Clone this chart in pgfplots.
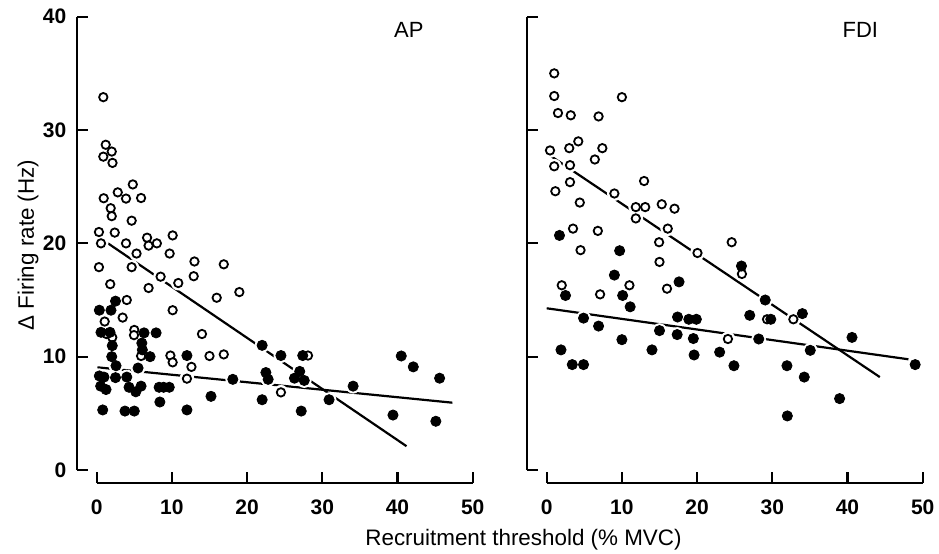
\documentclass[border=0pt]{standalone}
\usepackage{pgfplots}
\pgfplotsset{compat=1.18}
\usepackage{pgfplotstable}
\usepackage{fontspec}
\setmainfont{Liberation Sans}

% AP: open and filled circles
\pgfplotstableread{
x y
0.88 32.9
1.2 28.7
2.0 28.1
0.88 27.65
2.1 27.1
4.8 25.2
2.8 24.5
3.9 23.95
5.9 24.0
0.93 23.98
1.86 23.1
2.0 22.4
4.65 22.0
0.3 21.0
2.4 20.95
3.9 20.0
0.57 20.0
6.7 20.5
6.9 19.8
8.0 20.0
10.1 20.7
5.3 19.1
9.7 19.1
0.3 17.9
4.65 17.9
13.0 18.4
16.9 18.15
8.5 17.06
12.9 17.1
1.8 16.4
10.85 16.5
6.9 16.06
15.96 15.2
18.97 15.7
4.0 15.0
10.1 14.1
3.45 13.45
1.06 13.1
5.0 12.36
4.96 11.9
2.07 11.7
1.3 12.0
14.0 12.0
5.9 10.06
9.8 10.1
10.1 9.5
15.0 10.06
16.9 10.2
12.6 9.1
12.0 8.06
24.5 6.85
28.1 10.1
}\APopen

\pgfplotstableread{
x y
2.5 14.9
0.35 14.1
1.9 14.1
0.57 12.15
1.77 12.15
6.3 12.1
7.9 12.1
6.0 11.2
2.07 10.97
6.07 10.6
2.0 10.0
7.1 10.0
12.0 10.1
2.57 9.2
5.5 9.0
0.35 8.3
0.97 8.2
0.53 7.4
1.24 7.1
2.5 8.15
4.0 8.2
4.3 7.3
5.2 6.9
5.9 7.4
8.3 7.3
8.9 7.3
9.65 7.3
8.4 6.0
0.8 5.3
3.76 5.2
5.0 5.2
12.0 5.3
15.2 6.5
18.1 8.0
22.0 11.0
24.5 10.1
22.5 8.6
22.8 8.0
22.0 6.2
26.3 8.1
27.0 8.7
27.6 7.9
27.4 10.1
27.2 5.2
34.1 7.4
30.9 6.2
40.5 10.06
42.1 9.1
45.6 8.1
39.4 4.85
45.1 4.3
}\APfilled

% FDI: open and filled circles
\pgfplotstableread{
x y
1.0 35.0
1.0 33.0
10.0 32.9
1.5 31.5
3.2 31.3
6.9 31.2
4.2 29.0
3.0 28.4
0.44 28.2
7.4 28.4
6.4 27.4
1.0 26.8
3.1 26.9
3.1 25.4
12.95 25.5
1.15 24.6
9.0 24.4
4.4 23.6
11.85 23.2
13.1 23.2
15.3 23.45
17.0 23.06
11.85 22.2
3.5 21.3
6.8 21.1
16.1 21.3
14.95 20.1
24.6 20.1
4.5 19.4
20.05 19.15
15.0 18.36
2.0 16.3
7.1 15.5
11.0 16.3
16.0 16.0
25.96 17.3
29.3 13.3
32.8 13.3
24.1 11.56
}\FDIopen

\pgfplotstableread{
x y
1.7 20.7
9.7 19.35
9.0 17.2
2.5 15.4
10.1 15.4
11.1 14.4
4.9 13.4
6.9 12.7
10.0 11.5
1.9 10.6
3.4 9.3
4.9 9.3
17.6 16.6
25.9 18.0
29.06 15.0
17.4 13.5
18.9 13.3
19.9 13.3
27.0 13.65
29.8 13.3
34.0 13.8
15.0 12.3
17.35 11.95
19.5 11.6
28.2 11.56
14.0 10.6
19.6 10.15
23.0 10.4
24.9 9.2
31.95 9.2
35.05 10.56
34.25 8.2
32.0 4.77
40.6 11.7
38.95 6.3
49.0 9.3
}\FDIfilled

\pgfplotsset{
  rangeframe/.style={
    scale only axis, width=188pt, height=226.65pt,
    xmin=0, xmax=50, ymin=0, ymax=40,
    axis lines=left, axis line style={-, line width=1.1pt},
    axis x line shift=6.5pt, axis y line shift=9.7pt,
    tick align=inside, major tick length=5.5pt,
    tick style={line width=1.1pt, black},
    xtick={0,10,...,50}, ytick={0,10,...,40},
    clip=false,
    /pgf/number format/assume math mode=true,
    tick label style={font=\fontsize{10.5}{12}\selectfont\bfseries},
    xticklabel style={yshift=-5pt},
    yticklabel style={xshift=-2pt},
    anchor=origin,
  },
  halo/.style={only marks, mark=*, mark size=3.5pt, white, mark options={draw=white, fill=white}},
  opendot/.style={only marks, mark=*, mark size=2.1pt, mark options={draw=black, fill=white, line width=0.9pt}},
  filldot/.style={only marks, mark=*, mark size=2.55pt, mark options={draw=black, fill=black}},
  fitline/.style={no marks, line width=1.1pt, black},
}

\begin{document}
\begin{tikzpicture}
% 1 px of the reference = 0.5pt
\path[use as bounding box] (0pt,0pt) rectangle (469.5pt,276.5pt);

\begin{axis}[rangeframe, at={(48.35pt,41.5pt)}]
  \addplot[fitline] coordinates {(1.5,20.0) (41.2,2.1)};
  \addplot[fitline] coordinates {(0.1,9.06) (47.3,5.94)};
  \addplot[halo] table {\APopen};
  \addplot[halo] table {\APfilled};
  \addplot[opendot] table {\APopen};
  \addplot[filldot] table {\APfilled};
  \node[font=\fontsize{11}{12}\selectfont] at (axis cs:41.5,38.8) {AP};
\end{axis}

\begin{axis}[rangeframe, at={(273.35pt,41.5pt)}, yticklabels={}]
  \addplot[fitline] coordinates {(0,27.95) (44.3,8.2)};
  \addplot[fitline] coordinates {(0,14.27) (48.1,9.77)};
  \addplot[halo] table {\FDIopen};
  \addplot[halo] table {\FDIfilled};
  \addplot[opendot] table {\FDIopen};
  \addplot[filldot] table {\FDIfilled};
  \node[font=\fontsize{11}{12}\selectfont] at (axis cs:41.7,38.8) {FDI};
\end{axis}

\node[font=\fontsize{11.2}{13}\selectfont] at (261.75pt,6.8pt) {Recruitment threshold (\% MVC)};
\node[font=\fontsize{11.2}{13}\selectfont, rotate=90] at (14pt,154pt) {Δ Firing rate (Hz)};
\end{tikzpicture}
\end{document}
